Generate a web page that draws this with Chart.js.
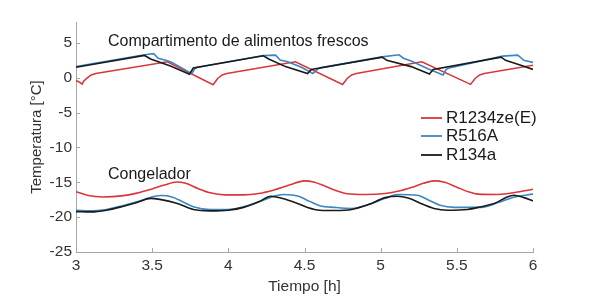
<!DOCTYPE html>
<html>
<head>
<meta charset="utf-8">
<script src="https://cdn.jsdelivr.net/npm/chart.js@4.4.1/dist/chart.umd.min.js"></script>
<style>
  html, body { margin: 0; padding: 0; background: #fff; }
  #wrap { width: 590px; height: 296px; }
</style>
</head>
<body>
<div id="wrap"><canvas id="tempChart"></canvas></div>
<script>
// series labels / colours
var seriesNames = ['R1234ze(E)', 'R516A', 'R134a'];
var seriesColors = ['#d9363b', '#3b86c4', '#1a1a1a'];

// y ticks shown
var yTicks = [5, 0, -5, -10, -15, -20, -25];

// Compartimento de alimentos frescos (tiempo [h], temperatura [C])
var frescoT_R1234 = [3.0, 3.02, 3.04, 3.05, 3.07, 3.10, 3.13, 3.6, 3.9, 3.93, 3.96, 3.99, 4.44, 4.75, 4.78, 4.81, 4.84, 5.27, 5.59, 5.62, 5.65, 5.68, 6.0];
var frescoV_R1234 = [-0.4, -0.6, -0.9, -0.5, -0.1, 0.4, 0.6, 2.3, -1.0, -0.1, 0.4, 0.6, 2.3, -0.95, -0.1, 0.4, 0.6, 2.3, -0.95, -0.1, 0.4, 0.6, 1.8];

var frescoT_R516 = [3.0, 3.45, 3.51, 3.54, 3.6, 3.63, 3.72, 3.76, 3.78, 3.80, 4.23, 4.31, 4.34, 4.39, 4.48, 4.555, 4.59, 4.61, 5.01, 5.12, 5.15, 5.2, 5.31, 5.41, 5.43, 5.45, 5.80, 5.9, 5.94, 6.0];
var frescoV_R516 = [1.6, 3.3, 3.45, 2.8, 2.45, 2.2, 1.1, 0.6, 1.3, 1.5, 3.2, 3.25, 2.55, 2.3, 1.5, 0.6, 1.3, 1.45, 3.0, 3.3, 2.8, 2.4, 1.3, 0.4, 1.2, 1.4, 3.1, 3.25, 2.5, 2.2];

var frescoT_R134 = [3.0, 3.45, 3.49, 3.62, 3.745, 3.77, 4.23, 4.265, 4.375, 4.52, 4.545, 5.01, 5.04, 5.2, 5.32, 5.345, 5.79, 5.82, 5.92, 6.0];
var frescoV_R134 = [1.5, 3.2, 2.7, 1.7, 0.5, 1.4, 3.15, 2.7, 1.6, 0.6, 1.2, 2.95, 2.5, 1.6, 0.55, 1.2, 2.95, 2.5, 1.8, 1.2];

// Congelador
var congT_R1234 = [3.0, 3.08, 3.18, 3.3, 3.4, 3.5, 3.58, 3.66, 3.72, 3.8, 3.88, 3.98, 4.1, 4.2, 4.3, 4.4, 4.5, 4.56, 4.64, 4.72, 4.78, 4.9, 5.03, 5.12, 5.2, 5.28, 5.35, 5.42, 5.5, 5.58, 5.64, 5.77, 5.9, 6.0];
var congV_R1234 = [-16.35, -16.9, -17.1, -16.95, -16.55, -15.95, -15.4, -14.95, -15.15, -15.9, -16.5, -16.8, -16.8, -16.6, -16.1, -15.4, -14.8, -14.95, -15.6, -16.3, -16.65, -16.75, -16.6, -16.25, -15.75, -15.15, -14.8, -15.0, -15.7, -16.4, -16.7, -16.75, -16.4, -16.0];

var congT_R516 = [3.0, 3.1, 3.2, 3.3, 3.4, 3.51, 3.56, 3.63, 3.7, 3.77, 3.88, 4.0, 4.1, 4.2, 4.3, 4.36, 4.46, 4.53, 4.6, 4.7, 4.81, 4.92, 5.03, 5.11, 5.24, 5.32, 5.39, 5.48, 5.66, 5.77, 5.88, 6.0];
var congV_R516 = [-19.0, -19.1, -18.9, -18.4, -17.8, -17.05, -16.9, -17.1, -17.8, -18.5, -18.9, -18.9, -18.5, -17.8, -17.0, -16.75, -17.0, -17.7, -18.35, -18.6, -18.75, -18.2, -17.3, -16.75, -16.85, -17.6, -18.3, -18.6, -18.6, -17.9, -17.1, -16.7];

var congT_R134 = [3.0, 3.1, 3.2, 3.3, 3.4, 3.49, 3.55, 3.66, 3.77, 3.88, 4.0, 4.1, 4.2, 4.28, 4.35, 4.45, 4.52, 4.6, 4.7, 4.81, 4.92, 5.03, 5.11, 5.2, 5.26, 5.35, 5.44, 5.57, 5.66, 5.75, 5.83, 5.875, 5.94, 6.0];
var congV_R134 = [-19.2, -19.25, -19.0, -18.5, -17.9, -17.3, -17.45, -18.0, -18.9, -19.1, -19.0, -18.6, -17.8, -17.0, -17.3, -18.0, -18.6, -19.0, -19.05, -18.9, -18.2, -17.2, -17.0, -17.4, -18.0, -18.75, -19.0, -18.9, -18.5, -18.0, -17.1, -16.85, -17.2, -17.65];

function pts(t, v) {
  return t.map(function (x, i) { return { x: x, y: v[i] }; });
}

function lineSet(label, color, t, v, smooth, order) {
  return {
    label: label,
    data: pts(t, v),
    borderColor: color,
    backgroundColor: color,
    borderWidth: 1.6,
    pointRadius: 0,
    tension: 0,
    cubicInterpolationMode: smooth ? 'monotone' : 'default',
    order: order
  };
}

var FONT = '"Liberation Sans", Arial, Helvetica, sans-serif';

// text labels inside the plot, legend and inward tick marks (MATLAB look)
var decorPlugin = {
  id: 'decor',
  afterDraw: function (chart) {
    var ctx = chart.ctx;
    var xs = chart.scales.x, ys = chart.scales.y;
    var area = chart.chartArea;
    ctx.save();

    // inward ticks
    ctx.strokeStyle = '#a6a6a6';
    ctx.lineWidth = 1;
    ctx.beginPath();
    xs.ticks.forEach(function (t) {
      var px = Math.round(xs.getPixelForValue(t.value)) + 0.5;
      ctx.moveTo(px, area.bottom);
      ctx.lineTo(px, area.bottom - 4);
    });
    ys.ticks.forEach(function (t) {
      var py = Math.round(ys.getPixelForValue(t.value)) + 0.5;
      ctx.moveTo(area.left, py);
      ctx.lineTo(area.left + 4, py);
    });
    ctx.stroke();

    // annotations
    ctx.fillStyle = '#1a1a1a';
    ctx.font = '16px ' + FONT;
    ctx.textAlign = 'left';
    ctx.textBaseline = 'middle';
    ctx.fillText('Compartimento de alimentos frescos', xs.getPixelForValue(3.21), ys.getPixelForValue(5.2));
    ctx.fillText('Congelador', xs.getPixelForValue(3.21), ys.getPixelForValue(-13.9));

    // legend
    ctx.font = '17px ' + FONT;
    var lx = area.right - 112;
    var rows = [118, 136, 155];
    for (var i = 0; i < seriesNames.length; i++) {
      ctx.strokeStyle = seriesColors[i];
      ctx.lineWidth = 1.8;
      ctx.beginPath();
      ctx.moveTo(lx, rows[i]);
      ctx.lineTo(lx + 21, rows[i]);
      ctx.stroke();
      ctx.fillStyle = '#1a1a1a';
      ctx.fillText(seriesNames[i], lx + 25, rows[i]);
    }
    ctx.restore();
  }
};

var ctx = document.getElementById('tempChart');
var tempChart = new Chart(ctx, {
  type: 'line',
  data: {
    datasets: [
      lineSet(seriesNames[0], seriesColors[0], frescoT_R1234, frescoV_R1234, false, 2),
      lineSet(seriesNames[1], seriesColors[1], frescoT_R516, frescoV_R516, false, 1),
      lineSet(seriesNames[2], seriesColors[2], frescoT_R134, frescoV_R134, false, 0),
      lineSet(seriesNames[0], seriesColors[0], congT_R1234, congV_R1234, true, 2),
      lineSet(seriesNames[1], seriesColors[1], congT_R516, congV_R516, true, 1),
      lineSet(seriesNames[2], seriesColors[2], congT_R134, congV_R134, true, 0)
    ]
  },
  options: {
    responsive: true,
    maintainAspectRatio: false,
    animation: false,
    layout: { padding: { top: 22, right: 57, left: 0, bottom: 0 } },
    plugins: {
      legend: { display: false },
      tooltip: { enabled: false }
    },
    scales: {
      x: {
        type: 'linear',
        min: 3,
        max: 6,
        ticks: {
          stepSize: 0.5,
          color: '#333',
          font: { family: FONT, size: 15.5 },
          padding: 4,
          maxRotation: 0,
          callback: function (v) { return String(Math.round(v * 10) / 10); }
        },
        grid: { display: true, drawOnChartArea: false, drawTicks: false },
        border: { color: '#a6a6a6', width: 1 },
        title: {
          display: true,
          text: 'Tiempo [h]',
          color: '#333',
          font: { family: FONT, size: 15.5 },
          padding: { top: 0, bottom: 0 }
        },
        afterFit: function (scale) { scale.height = 44; }
      },
      y: {
        min: -25,
        max: 8,
        ticks: {
          stepSize: 5,
          color: '#333',
          font: { family: FONT, size: 15.5 },
          padding: 4
        },
        afterBuildTicks: function (scale) {
          scale.ticks = yTicks.slice().reverse().map(function (v) { return { value: v }; });
        },
        grid: { display: true, drawOnChartArea: false, drawTicks: false },
        border: { color: '#a6a6a6', width: 1 },
        title: {
          display: true,
          text: 'Temperatura [°C]',
          color: '#333',
          font: { family: FONT, size: 15 },
          padding: { top: 28, bottom: 0 }
        },
        afterFit: function (scale) { scale.width = 76; }
      }
    }
  },
  plugins: [decorPlugin]
});
</script>
</body>
</html>
